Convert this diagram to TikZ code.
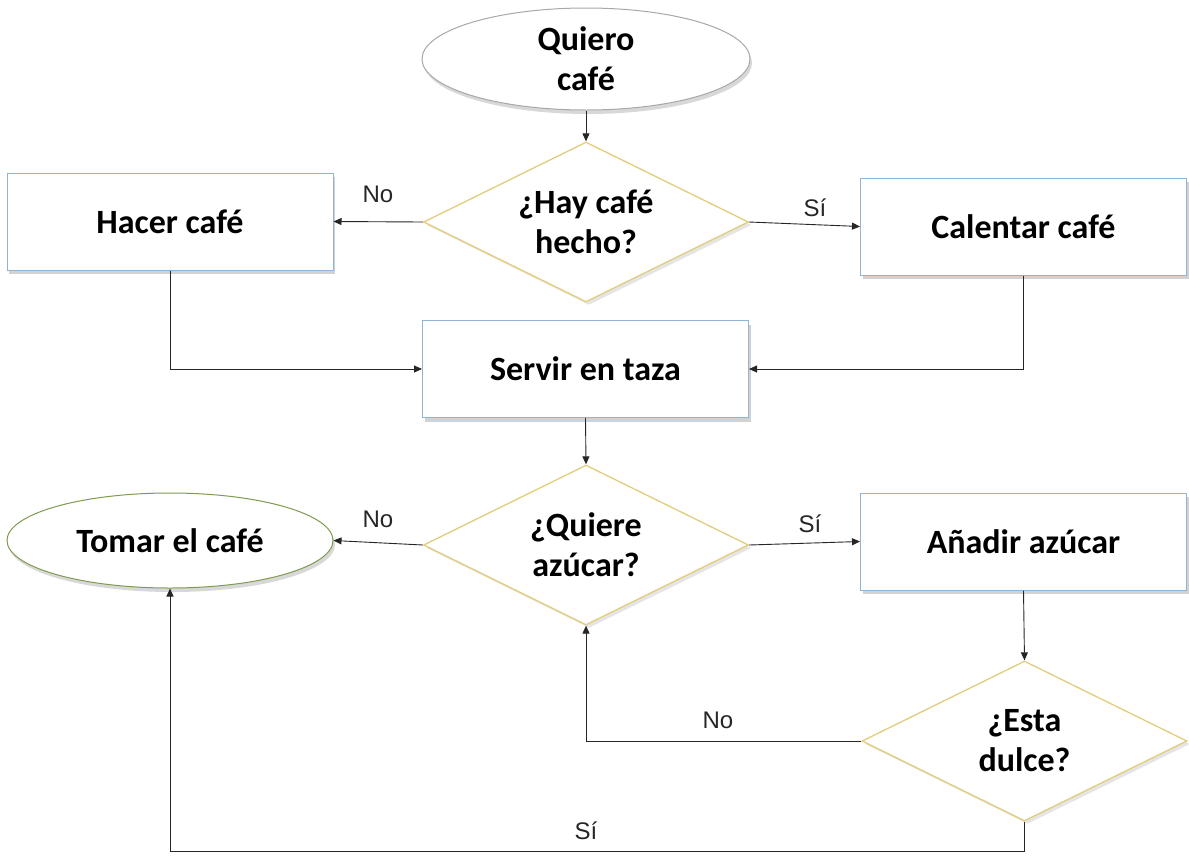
\documentclass[tikz,border=0pt]{standalone}
\usepackage{fontspec}
\setmainfont{Carlito}
\newfontfamily\labelfont{Liberation Sans}
\usetikzlibrary{shapes.geometric,shadows,arrows.meta}
\definecolor{rectblue}{HTML}{8EB4D6}
\definecolor{dgold}{HTML}{E3CC7C}
\definecolor{termgray}{HTML}{A8A8A8}
\definecolor{termgreen}{HTML}{7E9B4E}
\pgfdeclareradialshading{rimshade}{\pgfpoint{0bp}{0bp}}{color(0bp)=(white); color(38bp)=(white); color(50bp)=(gray!45)}
\tikzset{
  boxtxt/.style={font=\fontsize{34}{40}\selectfont\bfseries, align=center, text=black},
  rectbox/.style={boxtxt, rectangle, draw=rectblue, line width=1pt, fill=white,
    minimum width=326pt, minimum height=97pt, inner sep=0pt,
    drop shadow={shadow xshift=2pt, shadow yshift=-4pt, opacity=0.35}},
  decbox/.style={boxtxt, diamond, aspect=2.03, draw=dgold, line width=1.3pt, fill=white,
    minimum width=325pt, minimum height=160pt, inner sep=0pt,
    drop shadow={shadow xshift=3pt, shadow yshift=-3pt, opacity=0.2}},
  termbox/.style={boxtxt, ellipse, line width=1pt, inner sep=0pt,
    shading=rimshade,
    drop shadow={shadow xshift=2pt, shadow yshift=-4pt, opacity=0.3}},
  conn/.style={draw=black!85, line width=0.9pt, -{Triangle[length=8pt,width=7pt]}},
  lbl/.style={font=\labelfont\fontsize{24}{28}\selectfont, text=black!85}
}
\begin{document}
\begin{tikzpicture}[x=1pt,y=-1pt]
\useasboundingbox[fill=white] (0,0) rectangle (1189,855);
\node[termbox, draw=termgray, minimum width=328pt, minimum height=102pt] (start) at (586,59) {Quiero\\caf\'e};
\node[decbox] (d1) at (586,222) {¿Hay caf\'e\\hecho?};
\node[rectbox] (hacer) at (170,221.5) {Hacer caf\'e};
\node[rectbox] (calentar) at (1023.5,226.5) {Calentar caf\'e};
\node[rectbox] (servir) at (585.5,369) {Servir en taza};
\node[decbox] (d2) at (586,545) {¿Quiere\\az\'ucar?};
\node[termbox, draw=termgreen, minimum width=326pt, minimum height=95pt] (tomar) at (170,540.5) {Tomar el caf\'e};
\node[rectbox] (anadir) at (1023.5,541.5) {Añadir az\'ucar};
\node[decbox] (d3) at (1024.5,741) {¿Esta\\dulce?};
\coordinate (bot) at (1024.5,851);

\draw[conn] (start.south) -- (d1.north);
\draw[conn] (d1.west) -- (hacer.east);
\draw[conn] (d1.east) -- (calentar.west);
\draw[conn] (hacer.south) |- (servir.west);
\draw[conn] (calentar.south) |- (servir.east);
\draw[conn] (servir.south) -- (d2.north);
\draw[conn] (d2.west) -- (tomar.east);
\draw[conn] (d2.east) -- (anadir.west);
\draw[conn] (anadir.south) -- (d3.north);
\draw[conn] (d3.west) -| (d2.south);
\draw[conn] (d3.south) -- (bot) -| (tomar.south);

\node[lbl] (l1) at (378,194) {No};
\node[lbl] (l2) at (815,208) {Sí};
\node[lbl] (l3) at (378,519) {No};
\node[lbl] (l4) at (810,524) {Sí};
\node[lbl] (l5) at (718,720) {No};
\node[lbl] (l6) at (586,831) {Sí};
\end{tikzpicture}
\end{document}
